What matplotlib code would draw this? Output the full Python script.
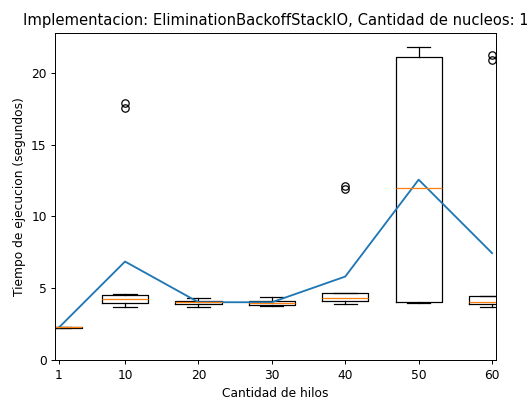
import numpy as np
import matplotlib
matplotlib.use("Agg")
import matplotlib.pyplot as plt

# Execution times (seconds), 10 runs per thread count
hilos = [1, 10, 20, 30, 40, 50, 60]
tiempos_1 = [2.24, 2.26, 2.27, 2.28, 2.28, 2.29, 2.29, 2.30, 2.30, 2.31]
tiempos_10 = [3.74, 3.90, 4.00, 4.04, 4.20, 4.34, 4.36, 4.64, 17.55, 17.90]
tiempos_20 = [3.72, 3.85, 3.90, 3.98, 4.02, 4.06, 4.10, 4.17, 4.25, 4.34]
tiempos_30 = [3.80, 3.82, 3.84, 3.88, 3.98, 4.04, 4.12, 4.16, 4.30, 4.41]
tiempos_40 = [3.88, 4.05, 4.10, 4.22, 4.28, 4.36, 4.66, 4.67, 11.90, 12.10]
tiempos_50 = [3.99, 4.03, 4.07, 4.11, 4.13, 19.79, 21.05, 21.12, 21.50, 21.80]
tiempos_60 = [3.70, 3.82, 3.88, 3.96, 4.00, 4.12, 4.47, 4.49, 20.85, 21.25]

titulo = "Implementacion: EliminationBackoffStackIO, Cantidad de nucleos: 1"

datos = [tiempos_1, tiempos_10, tiempos_20, tiempos_30,
         tiempos_40, tiempos_50, tiempos_60]
medias = [np.mean(d) for d in datos]

dpi = 88.7
fig = plt.figure(figsize=(527 / dpi, 401 / dpi), dpi=dpi)
ax = fig.add_axes([55.3 / 527, (401 - 360.3) / 401,
                   440.4 / 527, (360.3 - 32.7) / 401])

ax.boxplot(datos, positions=hilos, widths=6.3)
ax.plot(hilos, medias)

ax.set_xlim(0.5, 60.5)
ax.set_ylim(bottom=0)
ax.set_xticks(hilos)
ax.set_xticklabels([str(h) for h in hilos])

ax.set_title(titulo)
ax.set_xlabel("Cantidad de hilos")
ax.set_ylabel("Tiempo de ejecucion (segundos)")

fig.savefig("out.png", dpi=dpi)
